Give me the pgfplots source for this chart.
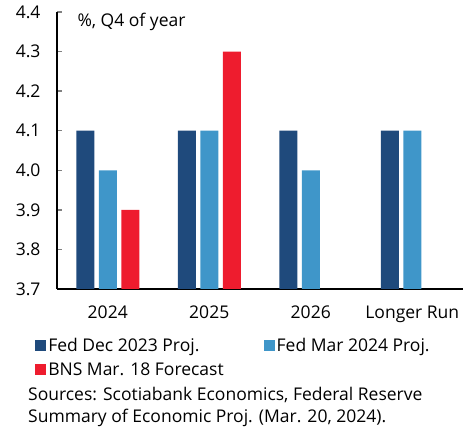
\documentclass[border=0pt]{standalone}
\usepackage{pgfplots}
\pgfplotsset{compat=1.18}
\usepackage{fontspec}
\setmainfont{Open Sans}
\definecolor{cdark}{HTML}{1F4A7C}
\definecolor{clight}{HTML}{3F96C9}
\definecolor{cred}{HTML}{EE1C2E}
\newcommand{\fs}{\fontsize{17.5}{20}\selectfont}
\begin{document}
\begin{tikzpicture}[x=1pt,y=1pt]
\path[use as bounding box] (0,0) rectangle (474,430);
\begin{axis}[
  name=ax,
  at={(57pt,141pt)}, anchor=south west,
  scale only axis, width=406pt, height=277pt,
  xmin=-0.5, xmax=3.5, ymin=3.7, ymax=4.4,
  axis x line*=bottom, axis y line*=left,
  axis line style={line width=1.3pt, -},
  xtick={0,1,2,3},
  xticklabels={2024,2025,2026,Longer Run},
  major x tick style={draw=none},
  extra x ticks={-0.5,0.5,1.5,2.5,3.5},
  extra x tick labels={},
  extra x tick style={tick align=outside, major tick length=5pt, tick style={line width=1.3pt, draw=black}},
  ytick={3.7,3.8,...,4.41},
  yticklabel style={/pgf/number format/fixed, /pgf/number format/fixed zerofill, /pgf/number format/precision=1},
  ytick style={line width=1.3pt},
  tick align=inside, major tick length=5pt,
  /pgf/number format/assume math mode=true,
  tick label style={font=\fs},
  yticklabel style={xshift=-13pt},
  xticklabel style={yshift=-8pt},
  ybar, bar width=18pt,
  legend columns=2,
  legend style={at={(-0.054,-0.168)}, anchor=north west, draw=none, inner sep=0pt,
    font=\fs, row sep=6pt,
    /tikz/every even column/.append style={column sep=38pt}},
  legend image code/.code={\fill[#1] (0pt,-5.5pt) rectangle (11pt,5.5pt);},
  legend cell align=left,
]
\addplot[fill=cdark, draw=none, bar shift=-22.5pt] coordinates {(0,4.1) (1,4.1) (2,4.1) (3,4.1)};
\addplot[fill=clight, draw=none, bar shift=0pt] coordinates {(0,4.0) (1,4.1) (2,4.0) (3,4.1)};
\addplot[fill=cred, draw=none, bar shift=22.5pt] coordinates {(0,3.9) (1,4.3)};
\legend{Fed Dec 2023 Proj., Fed Mar 2024 Proj., BNS Mar. 18 Forecast}
\node[anchor=north west, font=\fs, inner sep=0pt] at (rel axis cs:0.05,0.997) {\%, Q4 of year};
\end{axis}
\node[anchor=north west, inner sep=0pt, align=left, font=\fontsize{17.5}{22.5}\selectfont] at (28,43) {Sources: Scotiabank Economics, Federal Reserve\\Summary of Economic Proj. (Mar. 20, 2024).};
\end{tikzpicture}
\end{document}
